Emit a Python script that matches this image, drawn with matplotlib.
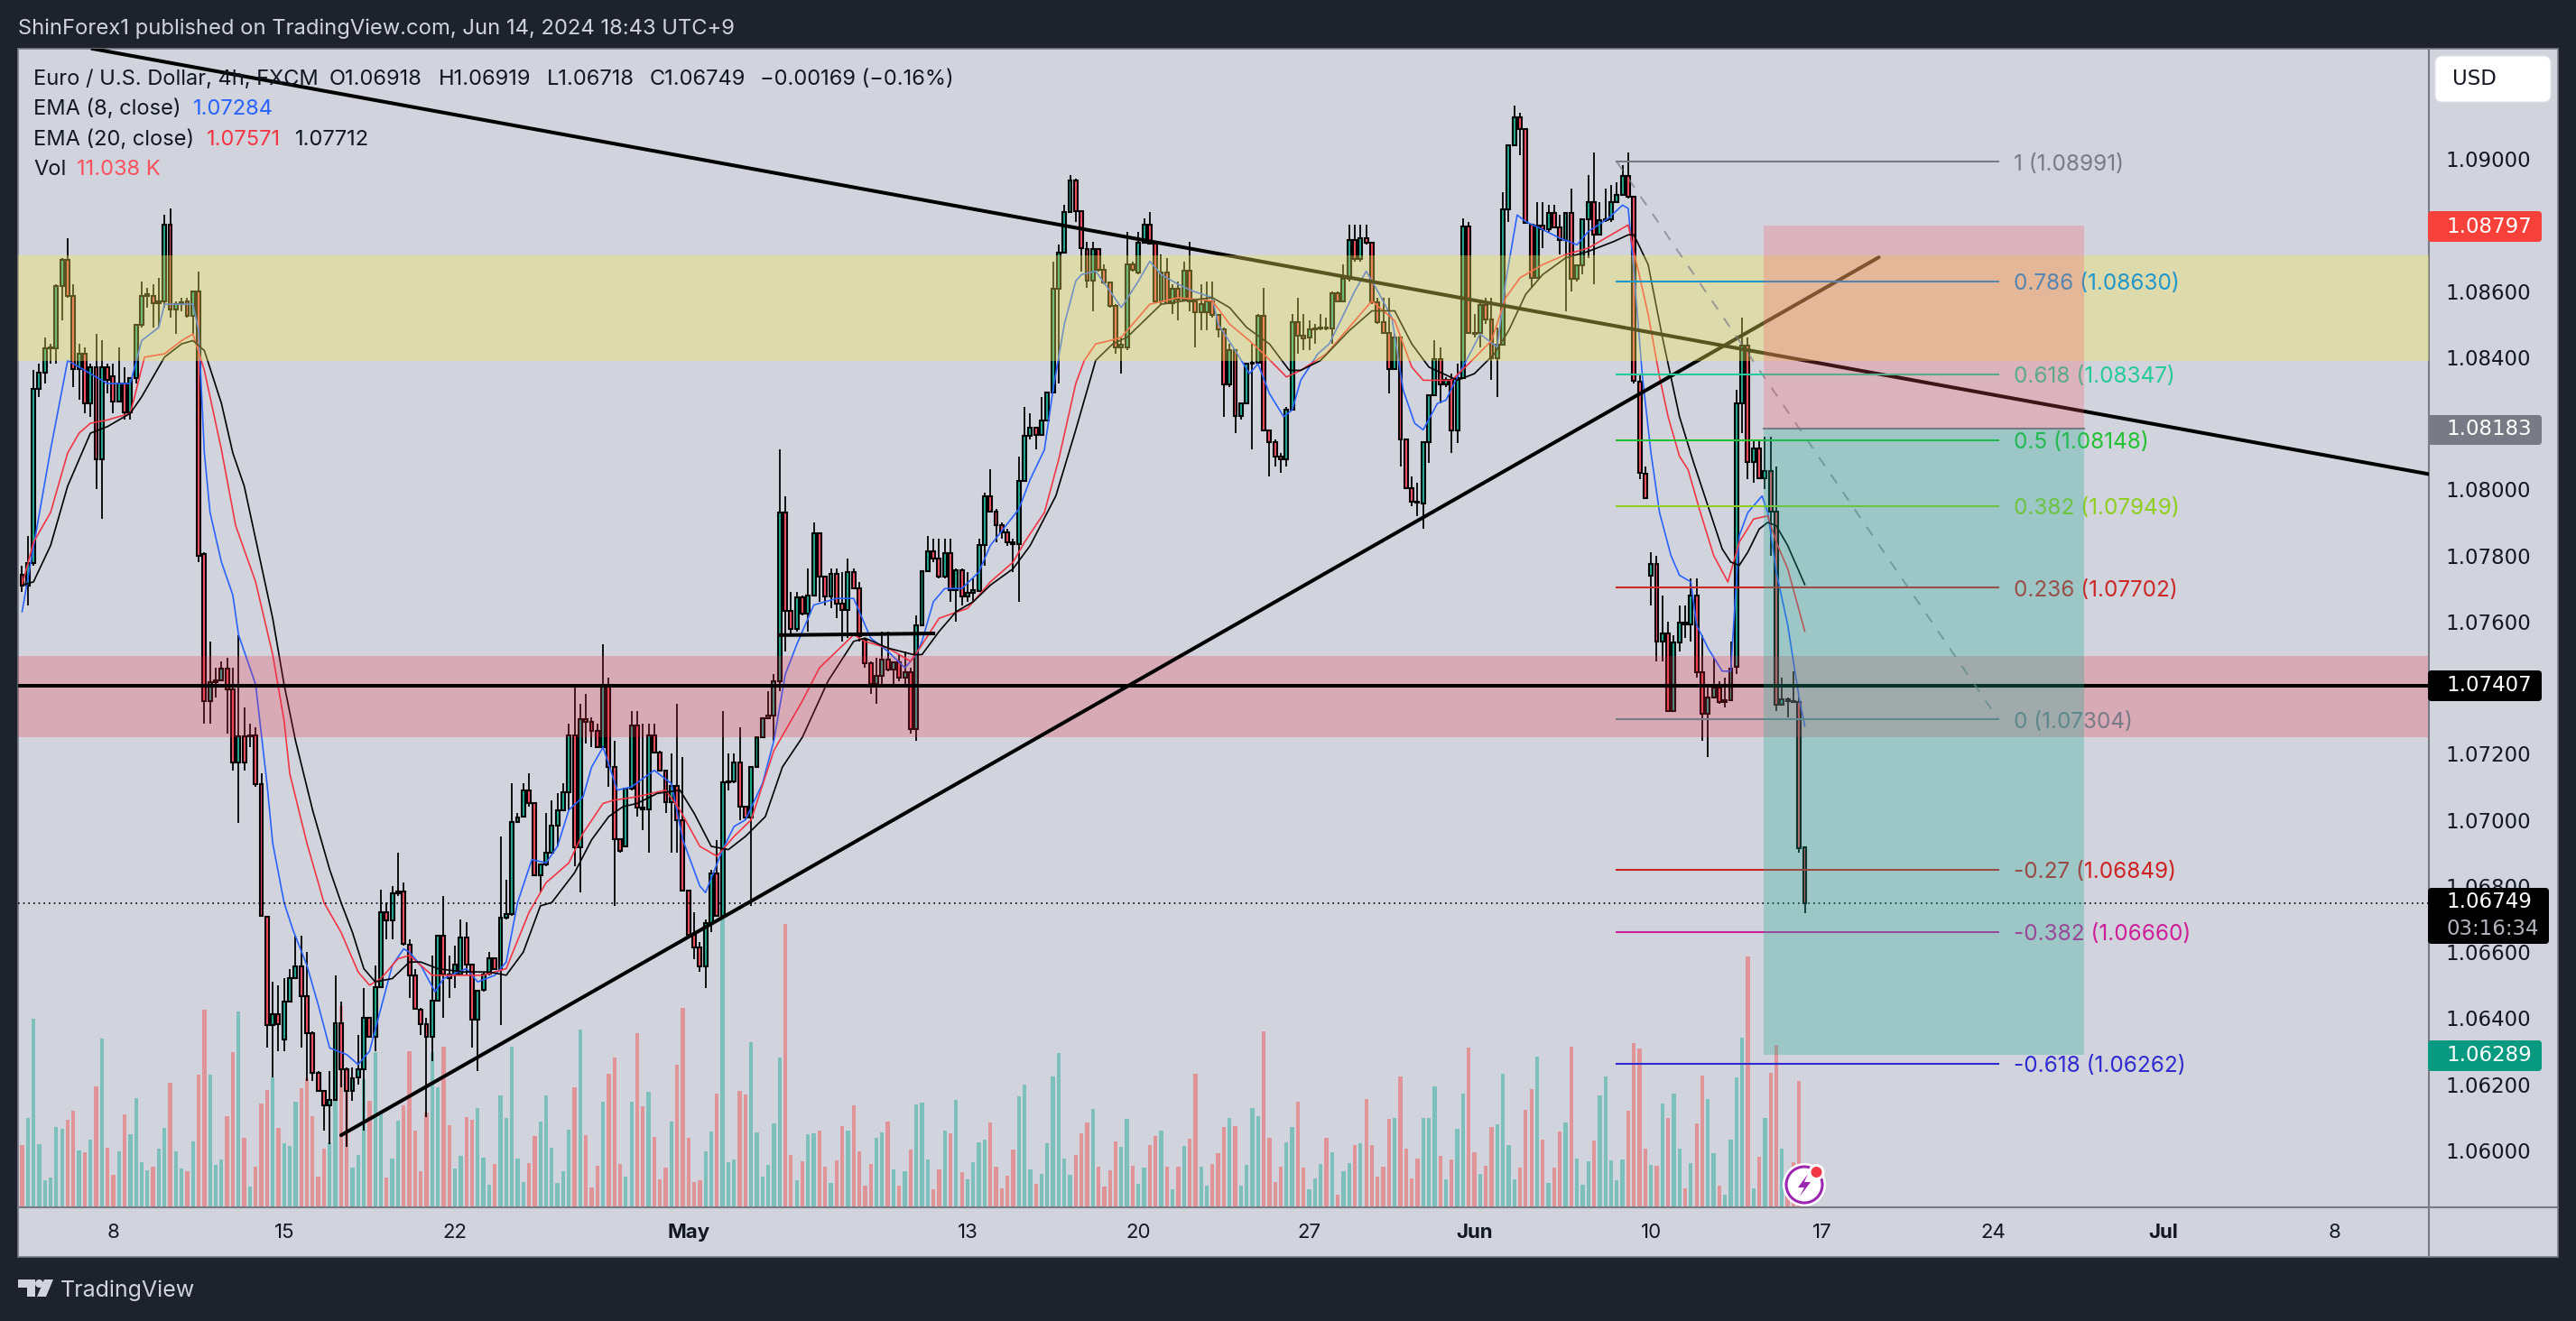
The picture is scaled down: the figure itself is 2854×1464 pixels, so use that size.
import matplotlib
matplotlib.use('Agg')
import matplotlib.pyplot as plt
from matplotlib.patches import Rectangle, Polygon, Circle, FancyBboxPatch
from matplotlib.transforms import Affine2D
import numpy as np

plt.rcParams['font.family'] = ['Inter', 'DejaVu Sans']

# EUR/USD 4h candles
opens = [
    1.07742, 1.0771, 1.07778, 1.08303, 1.08354, 1.08426, 1.08426, 1.08614, 1.08693, 1.08584,
    1.08365, 1.08411, 1.0826, 1.0837, 1.0809, 1.0837, 1.08343, 1.08265, 1.0832, 1.08233,
    1.08338, 1.08497, 1.08586, 1.08584, 1.08563, 1.0857, 1.08802, 1.08545, 1.08561, 1.0857,
    1.08525, 1.08599, 1.07804, 1.0736, 1.07416, 1.07421, 1.07458, 1.07396, 1.07173, 1.07252,
    1.07252, 1.07255, 1.07108, 1.06707, 1.06379, 1.06411, 1.06336, 1.0645, 1.0652, 1.06557,
    1.06468, 1.06356, 1.06236, 1.06181, 1.06136, 1.06154, 1.06386, 1.06247, 1.06181, 1.0622,
    1.06245, 1.064, 1.06343, 1.06495, 1.06721, 1.06695, 1.06779, 1.06784, 1.06623, 1.06529,
    1.06427, 1.06383, 1.06343, 1.06454, 1.0665, 1.06532, 1.06532, 1.06532, 1.06645, 1.06563,
    1.06395, 1.06486, 1.06536, 1.06582, 1.06548, 1.06703, 1.06715, 1.06994, 1.07009, 1.07089,
    1.0705, 1.06832, 1.06864, 1.06902, 1.06982, 1.07028, 1.07084, 1.07255, 1.06918, 1.07305,
    1.07296, 1.07269, 1.07221, 1.07405, 1.07159, 1.06941, 1.06921, 1.07094, 1.07285, 1.07037,
    1.07032, 1.07255, 1.07205, 1.07148, 1.07055, 1.07103, 1.07, 1.06785, 1.06652, 1.06613,
    1.06556, 1.06688, 1.06838, 1.06709, 1.07114, 1.07117, 1.07173, 1.07039, 1.07008, 1.07159,
    1.07249, 1.07308, 1.07317, 1.07419, 1.0793, 1.07633, 1.07578, 1.07672, 1.07624, 1.0768,
    1.07867, 1.07737, 1.07675, 1.07744, 1.07655, 1.07635, 1.07749, 1.07701, 1.07546, 1.07473,
    1.0741, 1.07437, 1.07485, 1.07455, 1.07478, 1.0743, 1.07446, 1.07276, 1.07589, 1.07753,
    1.07813, 1.0779, 1.07735, 1.07806, 1.07696, 1.07756, 1.07676, 1.07687, 1.07692, 1.07833,
    1.0798, 1.07933, 1.07892, 1.07871, 1.0784, 1.07835, 1.08026, 1.08162, 1.08186, 1.08165,
    1.08209, 1.08294, 1.08608, 1.08717, 1.08838, 1.08934, 1.08843, 1.08727, 1.08632, 1.08727,
    1.08665, 1.08625, 1.08556, 1.08429, 1.08429, 1.08681, 1.08656, 1.08747, 1.08802, 1.08743,
    1.0857, 1.08655, 1.08563, 1.08606, 1.08575, 1.08661, 1.0857, 1.08535, 1.08535, 1.0857,
    1.08529, 1.08484, 1.08317, 1.0842, 1.08222, 1.0826, 1.0838, 1.08383, 1.08525, 1.08179,
    1.08144, 1.08099, 1.0809, 1.08241, 1.08506, 1.08465, 1.08459, 1.08484, 1.08487, 1.0849,
    1.08488, 1.08593, 1.0857, 1.08636, 1.08755, 1.08697, 1.08761, 1.08745, 1.08565, 1.08506,
    1.08472, 1.08365, 1.08459, 1.08151, 1.08004, 1.07962, 1.07956, 1.08144, 1.08286, 1.08394,
    1.08317, 1.08331, 1.08179, 1.08336, 1.08796, 1.08474, 1.08474, 1.08559, 1.08515, 1.08397,
    1.08438, 1.08848, 1.0904, 1.09125, 1.09089, 1.08802, 1.08641, 1.08797, 1.08788, 1.08836,
    1.08793, 1.08755, 1.08836, 1.08638, 1.08679, 1.08816, 1.08869, 1.0877, 1.08814, 1.08816,
    1.08869, 1.0889, 1.08949, 1.08884, 1.08327, 1.08047, 1.07738, 1.07774, 1.0754, 1.07563,
    1.07328, 1.07538, 1.07597, 1.07592, 1.0768, 1.07448, 1.07322, 1.0737, 1.07401, 1.07358,
    1.07362, 1.07462, 1.0826, 1.08434, 1.08084, 1.08125, 1.08034, 1.08056, 1.07933, 1.07349,
    1.07365, 1.0736, 1.07358, 1.06918,
]
highs = [
    1.0777, 1.0786, 1.0836, 1.0838, 1.0846, 1.0844, 1.0862, 1.087, 1.0876, 1.0862,
    1.0844, 1.0843, 1.0838, 1.0847, 1.0845, 1.0838, 1.0838, 1.0843, 1.0837, 1.0834,
    1.085, 1.0863, 1.0861, 1.0862, 1.0864, 1.0883, 1.0885, 1.0857, 1.0858, 1.0858,
    1.086, 1.0866, 1.0781, 1.0754, 1.0746, 1.0748, 1.0749, 1.0746, 1.0756, 1.0734,
    1.0729, 1.0728, 1.0714, 1.0671, 1.0651, 1.065, 1.0652, 1.0655, 1.0665, 1.0665,
    1.066, 1.0636, 1.0624, 1.0618, 1.0624, 1.0653, 1.0645, 1.0625, 1.0625, 1.0635,
    1.0649, 1.064, 1.0656, 1.0679, 1.0675, 1.068, 1.069, 1.0681, 1.0664, 1.0655,
    1.0643, 1.064, 1.0659, 1.0665, 1.0677, 1.0659, 1.0662, 1.067, 1.0669, 1.0656,
    1.0648, 1.0654, 1.066, 1.0658, 1.0695, 1.0682, 1.0711, 1.0702, 1.0711, 1.0714,
    1.0705, 1.06864, 1.0702, 1.0706, 1.0708, 1.0711, 1.0729, 1.074, 1.0735, 1.0738,
    1.0731, 1.0729, 1.0753, 1.0743, 1.0724, 1.0694, 1.07094, 1.0733, 1.0733, 1.0729,
    1.0729, 1.0729, 1.0721, 1.0715, 1.072, 1.0735, 1.0719, 1.0679, 1.0672, 1.0663,
    1.067, 1.0685, 1.0694, 1.0733, 1.072, 1.072, 1.0728, 1.0704, 1.07159, 1.0725,
    1.0731, 1.0739, 1.0744, 1.0812, 1.0798, 1.0769, 1.0769, 1.0768, 1.0776, 1.079,
    1.0787, 1.0774, 1.0776, 1.0776, 1.0775, 1.0779, 1.0776, 1.0772, 1.0755, 1.0748,
    1.0749, 1.0757, 1.0757, 1.0748, 1.075, 1.0751, 1.0746, 1.0762, 1.0775, 1.0786,
    1.0785, 1.0785, 1.0785, 1.0785, 1.0776, 1.0776, 1.0775, 1.0773, 1.0785, 1.0799,
    1.0806, 1.0794, 1.079, 1.0788, 1.0785, 1.081, 1.0825, 1.0823, 1.0819, 1.0828,
    1.0829, 1.0869, 1.0874, 1.0886, 1.0895, 1.0894, 1.0884, 1.0875, 1.0875, 1.0873,
    1.0868, 1.0863, 1.0856, 1.0846, 1.0878, 1.0869, 1.0878, 1.0882, 1.0884, 1.0874,
    1.0871, 1.087, 1.0862, 1.0863, 1.0869, 1.0875, 1.0857, 1.0862, 1.0863, 1.0863,
    1.0853, 1.0849, 1.0844, 1.0842, 1.0826, 1.0838, 1.0844, 1.0853, 1.0861, 1.0818,
    1.0815, 1.0811, 1.0825, 1.0853, 1.0858, 1.0853, 1.0851, 1.085, 1.0853, 1.0852,
    1.086, 1.086, 1.0868, 1.088, 1.088, 1.088, 1.088, 1.0875, 1.0858, 1.0858,
    1.0858, 1.0847, 1.0846, 1.0815, 1.0804, 1.0802, 1.08144, 1.08286, 1.0845, 1.0843,
    1.0834, 1.0835, 1.0838, 1.0882, 1.0881, 1.0853, 1.0857, 1.0858, 1.0858, 1.0849,
    1.089, 1.0904, 1.0916, 1.0914, 1.0909, 1.088, 1.0887, 1.0887, 1.0886, 1.0886,
    1.0883, 1.0884, 1.0891, 1.0868, 1.0882, 1.0895, 1.0902, 1.0887, 1.0891, 1.0892,
    1.0893, 1.0898, 1.0902, 1.0888, 1.0835, 1.0807, 1.0781, 1.078, 1.0768, 1.076,
    1.0756, 1.0765, 1.0765, 1.0773, 1.0773, 1.0756, 1.074, 1.0749, 1.0742, 1.0743,
    1.0754, 1.083, 1.0852, 1.0846, 1.0815, 1.0815, 1.0816, 1.0816, 1.0807, 1.0743,
    1.0737, 1.0745, 1.0737, 1.06919,
]
lows = [
    1.0769, 1.0765, 1.0777, 1.0828, 1.0832, 1.0838, 1.0838, 1.0851, 1.0858, 1.0831,
    1.0827, 1.0823, 1.0822, 1.08, 1.0791, 1.0829, 1.0823, 1.08265, 1.0821, 1.0821,
    1.0832, 1.0849, 1.0855, 1.0849, 1.0849, 1.0855, 1.0852, 1.0847, 1.0854, 1.0852,
    1.0847, 1.0778, 1.0729, 1.0729, 1.0737, 1.0742, 1.0726, 1.0715, 1.0699, 1.0715,
    1.0722, 1.071, 1.0671, 1.0631, 1.0622, 1.063, 1.063, 1.0645, 1.0652, 1.0631,
    1.0621, 1.0621, 1.0618, 1.0606, 1.0602, 1.06154, 1.0619, 1.0601, 1.0615, 1.062,
    1.0606, 1.06343, 1.063, 1.06495, 1.0664, 1.0664, 1.0677, 1.0662, 1.0646, 1.0643,
    1.0635, 1.061, 1.0627, 1.06454, 1.064, 1.0646, 1.0649, 1.0653, 1.0653, 1.0631,
    1.0624, 1.0648, 1.0653, 1.0655, 1.0638, 1.067, 1.0671, 1.0699, 1.07009, 1.0704,
    1.0683, 1.0678, 1.0686, 1.069, 1.0692, 1.0703, 1.0703, 1.0686, 1.0678, 1.0723,
    1.0722, 1.0722, 1.0722, 1.071, 1.0674, 1.069, 1.0692, 1.0709, 1.0701, 1.0697,
    1.069, 1.072, 1.0715, 1.0702, 1.069, 1.069, 1.06786, 1.0665, 1.0658, 1.0654,
    1.0649, 1.0666, 1.0671, 1.0671, 1.0709, 1.0711, 1.07, 1.07, 1.0674, 1.0716,
    1.0725, 1.0731, 1.0724, 1.0739, 1.0751, 1.0756, 1.0757, 1.0762, 1.0757, 1.0768,
    1.0766, 1.0765, 1.0764, 1.0761, 1.0754, 1.0755, 1.077, 1.0754, 1.0746, 1.0738,
    1.0735, 1.074, 1.0745, 1.0741, 1.0742, 1.0741, 1.0726, 1.0724, 1.0759, 1.0775,
    1.0778, 1.0773, 1.0773, 1.0766, 1.076, 1.0765, 1.0766, 1.0766, 1.0769, 1.0777,
    1.0793, 1.0784, 1.0785, 1.0783, 1.0775, 1.0766, 1.0803, 1.0815, 1.0812, 1.0817,
    1.0821, 1.0829, 1.0832, 1.0872, 1.0884, 1.0881, 1.0866, 1.0861, 1.0854, 1.0866,
    1.0862, 1.0855, 1.0841, 1.0835, 1.0842, 1.0866, 1.0865, 1.0875, 1.0874, 1.0857,
    1.0856, 1.0856, 1.0853, 1.0851, 1.0857, 1.0854, 1.0843, 1.0848, 1.0848, 1.0852,
    1.0846, 1.0822, 1.0831, 1.0817, 1.0821, 1.0826, 1.0812, 1.0838, 1.0818, 1.0804,
    1.0807, 1.0805, 1.0807, 1.0824, 1.0841, 1.0842, 1.0842, 1.0844, 1.0848, 1.0848,
    1.0844, 1.0857, 1.0857, 1.0863, 1.0869, 1.0869, 1.0874, 1.0856, 1.085, 1.0847,
    1.0829, 1.0836, 1.0807, 1.08, 1.0795, 1.0792, 1.0788, 1.0808, 1.08286, 1.0826,
    1.0831, 1.0811, 1.0814, 1.08336, 1.08474, 1.0846, 1.0843, 1.085, 1.0833, 1.0828,
    1.08438, 1.0881, 1.0904, 1.0901, 1.08807, 1.0861, 1.0864, 1.0873, 1.0878, 1.0879,
    1.0871, 1.0854, 1.086, 1.0863, 1.0865, 1.087, 1.0862, 1.0877, 1.0881, 1.0881,
    1.0887, 1.0889, 1.0888, 1.0832, 1.0803, 1.0797, 1.0765, 1.0748, 1.0748, 1.07328,
    1.0733, 1.0751, 1.0755, 1.0754, 1.0743, 1.0724, 1.0719, 1.0737, 1.0735, 1.0734,
    1.0736, 1.0744, 1.0817, 1.0803, 1.0802, 1.0803, 1.08, 1.078, 1.0733, 1.0735,
    1.0731, 1.0736, 1.069, 1.06718,
]
closes = [
    1.0771, 1.07778, 1.08303, 1.08354, 1.08426, 1.0843, 1.08614, 1.08693, 1.08584, 1.08365,
    1.08411, 1.0826, 1.0837, 1.0809, 1.0837, 1.0833, 1.08265, 1.0832, 1.08233, 1.08338,
    1.08497, 1.08586, 1.0859, 1.08563, 1.0857, 1.08802, 1.08545, 1.08561, 1.08565, 1.08525,
    1.08599, 1.078, 1.0736, 1.07416, 1.07421, 1.07458, 1.07396, 1.07173, 1.07252, 1.07173,
    1.07257, 1.07108, 1.0671, 1.06379, 1.06411, 1.06381, 1.0645, 1.0652, 1.06557, 1.06468,
    1.06356, 1.06236, 1.06181, 1.06136, 1.06154, 1.06386, 1.06247, 1.06181, 1.06218, 1.06245,
    1.064, 1.06343, 1.06495, 1.06721, 1.06695, 1.06779, 1.06784, 1.06624, 1.06529, 1.06429,
    1.06383, 1.06343, 1.06454, 1.0665, 1.06532, 1.06522, 1.06563, 1.06645, 1.06563, 1.06395,
    1.06482, 1.06533, 1.06582, 1.06548, 1.06703, 1.06715, 1.06994, 1.07007, 1.07089, 1.0705,
    1.06832, 1.06864, 1.06902, 1.06982, 1.07028, 1.07084, 1.07255, 1.06918, 1.07305, 1.07296,
    1.07269, 1.07221, 1.07405, 1.07159, 1.06941, 1.06905, 1.07094, 1.07285, 1.07037, 1.07032,
    1.07255, 1.07205, 1.07148, 1.07055, 1.07103, 1.07, 1.06786, 1.06652, 1.06613, 1.06556,
    1.06688, 1.06838, 1.06709, 1.07114, 1.07117, 1.07173, 1.07039, 1.07008, 1.07159, 1.07249,
    1.07308, 1.07317, 1.07419, 1.0793, 1.07633, 1.07578, 1.07672, 1.07624, 1.0768, 1.07867,
    1.07737, 1.07675, 1.07744, 1.07655, 1.07635, 1.07749, 1.07701, 1.07555, 1.07473, 1.0741,
    1.07437, 1.07485, 1.07455, 1.07478, 1.0743, 1.07446, 1.07276, 1.07589, 1.07753, 1.07813,
    1.0779, 1.07735, 1.07806, 1.07696, 1.07756, 1.07676, 1.07687, 1.07695, 1.07833, 1.0798,
    1.07933, 1.07892, 1.07871, 1.0784, 1.07835, 1.08026, 1.08162, 1.08186, 1.08165, 1.08209,
    1.08294, 1.08608, 1.08717, 1.08838, 1.08934, 1.08843, 1.08729, 1.08632, 1.08727, 1.08665,
    1.08625, 1.08556, 1.08429, 1.08438, 1.08681, 1.08665, 1.08747, 1.08802, 1.08743, 1.0857,
    1.08655, 1.08563, 1.08606, 1.08575, 1.08661, 1.0857, 1.08535, 1.0856, 1.0857, 1.08529,
    1.08484, 1.08317, 1.0842, 1.08222, 1.0826, 1.0838, 1.08382, 1.08525, 1.08179, 1.08144,
    1.08099, 1.0809, 1.08241, 1.08506, 1.08465, 1.08456, 1.08484, 1.08487, 1.0849, 1.08488,
    1.08593, 1.0857, 1.08636, 1.08755, 1.08697, 1.08761, 1.08745, 1.08565, 1.08506, 1.08472,
    1.08365, 1.08459, 1.08151, 1.08004, 1.07962, 1.0796, 1.08144, 1.08286, 1.08394, 1.08317,
    1.08331, 1.08179, 1.08336, 1.08796, 1.08474, 1.0847, 1.08559, 1.08515, 1.08397, 1.08438,
    1.08848, 1.0904, 1.09125, 1.09089, 1.08807, 1.08641, 1.08797, 1.08788, 1.08836, 1.08793,
    1.08755, 1.08836, 1.08638, 1.08679, 1.08816, 1.08869, 1.0877, 1.08814, 1.08816, 1.08869,
    1.0889, 1.08949, 1.08884, 1.08329, 1.0805, 1.07974, 1.07774, 1.0754, 1.07563, 1.07328,
    1.07538, 1.07597, 1.07592, 1.0768, 1.07448, 1.07322, 1.0737, 1.07401, 1.07358, 1.07362,
    1.07459, 1.0826, 1.08434, 1.08084, 1.08125, 1.08034, 1.08056, 1.07933, 1.07349, 1.07365,
    1.0736, 1.07358, 1.06915, 1.06749,
]

volumes = [
    204, 295, 625, 208, 88, 97, 265, 259, 289, 319,
    187, 181, 223, 400, 559, 196, 106, 184, 307, 241,
    361, 148, 121, 133, 193, 262, 412, 184, 127, 118,
    217, 439, 655, 439, 139, 157, 301, 514, 649, 229,
    67, 133, 343, 388, 430, 262, 211, 202, 349, 394,
    427, 301, 100, 193, 212, 362, 665, 412, 130, 172,
    422, 352, 512, 309, 97, 160, 286, 337, 517, 253,
    118, 312, 512, 397, 532, 271, 127, 169, 298, 289,
    328, 163, 73, 142, 370, 295, 532, 160, 82, 145,
    235, 283, 370, 196, 79, 118, 256, 397, 589, 238,
    64, 136, 349, 442, 496, 142, 100, 349, 577, 334,
    382, 232, 91, 130, 283, 472, 661, 229, 82, 88,
    184, 250, 376, 962, 148, 157, 385, 373, 547, 247,
    100, 139, 277, 496, 940, 172, 88, 151, 241, 244,
    253, 133, 79, 154, 268, 253, 337,
    183, 69, 141, 228, 246, 282, 123, 69, 117, 189, 339, 345, 156, 57, 123, 252, 243, 354,
    114, 90, 147, 213, 222, 279, 132, 60, 102, 189, 366, 405, 123, 75, 108, 210, 432, 510,
    159, 105, 171, 243, 279, 324, 132, 66, 120, 216, 198, 291, 135, 75, 129, 204, 234, 252,
    132, 57, 132, 201, 225, 441, 132, 69, 141, 177, 264, 294, 267, 69, 138, 327, 300, 582,
    228, 81, 132, 213, 264, 348, 129, 57, 93, 141, 228, 180, 39, 117, 144, 204, 210, 357,
    204, 99, 132, 291, 294, 432, 192, 93, 159, 294, 294, 399, 168, 90, 156, 258, 375, 528,
    180, 108, 135, 264, 273, 441, 204, 90, 129, 321, 390, 498, 222, 78, 129, 249, 279, 531,
    159, 72, 150, 219, 369, 432, 153, 87, 156, 318, 543, 525, 192, 138, 135, 342, 294,
    375, 192, 60, 145, 276, 435, 357, 177, 70, 40, 222, 429, 561, 831, 60, 165, 294, 444,
    537, 192, 100, 147, 417, 5,
]

# EMA curves, digitised as (bar, price) vertices
ema8_x = [0, 5, 8, 15, 19, 21, 24, 25, 30, 31, 32, 33, 35, 37, 38, 41, 42, 43, 44, 46, 47.5, 50, 52, 54, 57, 59, 61,
          63, 65, 67, 68, 70, 72.5, 74, 78, 80, 83, 85, 87, 89.5, 92, 94, 96, 98.5, 100, 102, 104.5, 107, 111, 114,
          116, 119, 120, 123, 125, 127, 130, 132, 134, 136, 139, 143, 146, 147, 149, 152, 155, 157, 158, 160, 162,
          165, 168, 170, 175, 177, 179.5, 181, 183, 185, 186, 188.5, 191, 193, 194.5, 196, 198, 200, 203, 205.5,
          209, 210, 213, 215.5, 217, 219, 221.5, 223, 224.5, 227.5, 229.5, 231.5, 234, 236, 238, 240.5, 242.5,
          244.5, 246, 248.5, 250, 252, 254.5, 256, 259, 260.5, 262.5, 264, 266.5, 270, 273, 275, 278.5, 281, 282,
          283, 284.5, 286, 287.5, 289.5, 291, 293, 294, 296, 298.5, 300, 301.5, 303, 305.5, 306.5, 308, 310, 312, 313]
ema8_y = [1.0763, 1.0812, 1.0839, 1.0832, 1.0832, 1.0845, 1.0849, 1.0856, 1.0856, 1.0848, 1.0811, 1.0793, 1.0778,
          1.0768, 1.0756, 1.0741, 1.0726, 1.0711, 1.0693, 1.0675, 1.0667, 1.0656, 1.0644, 1.0631, 1.0629, 1.0626,
          1.063, 1.0643, 1.0656, 1.0661, 1.066, 1.0656, 1.0648, 1.0652, 1.0655, 1.0651, 1.0653, 1.0657, 1.0675,
          1.0688, 1.0687, 1.0692, 1.0703, 1.0707, 1.0716, 1.0722, 1.0709, 1.071, 1.0715, 1.0711, 1.0694, 1.068,
          1.0678, 1.0691, 1.0698, 1.07, 1.0711, 1.0724, 1.0744, 1.0753, 1.0765, 1.0767, 1.0767, 1.0763, 1.0755,
          1.0751, 1.0746, 1.075, 1.0754, 1.0766, 1.077, 1.077, 1.0775, 1.0783, 1.0794, 1.0803, 1.0812, 1.083, 1.085,
          1.0863, 1.0865, 1.0866, 1.086, 1.0855, 1.0859, 1.0863, 1.0869, 1.0865, 1.0862, 1.086, 1.0858, 1.085,
          1.0842, 1.0835, 1.0838, 1.0829, 1.0822, 1.0824, 1.0833, 1.0841, 1.0844, 1.0851, 1.086, 1.0866, 1.086,
          1.0852, 1.083, 1.082, 1.0818, 1.0826, 1.0827, 1.0834, 1.0842, 1.0847, 1.0843, 1.0863, 1.0883, 1.0881,
          1.0879, 1.0876, 1.0874, 1.0878, 1.0882, 1.0886, 1.0885, 1.0866, 1.0834, 1.0811, 1.0793, 1.078, 1.0774,
          1.0772, 1.0759, 1.0752, 1.0745, 1.0745, 1.0786, 1.0793, 1.0798, 1.0793, 1.0775, 1.0759, 1.0737, 1.07284]

ema20_x = [0, 2, 5, 8, 10, 12, 15, 19, 21.5, 25, 28, 30, 32, 35, 37.5, 41, 44, 46, 47, 50, 53, 56, 59, 61, 63, 66, 68,
           72, 76, 81, 85, 89, 92, 96, 98.5, 102, 104, 108, 113, 115.5, 119, 122, 125, 128, 132, 137, 140, 143, 146,
           148, 152, 156, 158, 161, 166, 170, 174, 176, 179.5, 182, 185, 186.5, 188.5, 191, 193, 195, 198, 203, 209,
           212, 215.5, 218, 222, 224.5, 229, 233.5, 237, 241, 244, 246, 251, 254, 258, 260.5, 263, 267, 271, 275, 279,
           282, 283, 285.5, 287.5, 289, 291, 292.5, 294.5, 297, 299.5, 301.5, 304, 306.5, 308, 310, 313]
ema20_y = [1.0771, 1.0784, 1.0793, 1.0811, 1.0817, 1.082, 1.0821, 1.0823, 1.084, 1.0841, 1.0845, 1.0847, 1.0836, 1.0812,
           1.0789, 1.0772, 1.075, 1.073, 1.0714, 1.0693, 1.0675, 1.0666, 1.0654, 1.065, 1.0652, 1.0658, 1.0659, 1.0653,
           1.0653, 1.0653, 1.0655, 1.0672, 1.0681, 1.0687, 1.0696, 1.0705, 1.0706, 1.0707, 1.0709, 1.0703, 1.0692,
           1.0689, 1.0695, 1.07, 1.0721, 1.0736, 1.0746, 1.0751, 1.0756, 1.0754, 1.0752, 1.0748, 1.0753, 1.0761, 1.0764,
           1.0772, 1.0778, 1.0784, 1.0793, 1.0809, 1.0832, 1.0839, 1.0844, 1.0845, 1.0846, 1.085, 1.0856, 1.0858, 1.0857,
           1.085, 1.0845, 1.0841, 1.0834, 1.0836, 1.0841, 1.085, 1.0857, 1.0851, 1.0837, 1.0833, 1.0833, 1.0838, 1.0845,
           1.0858, 1.0864, 1.0868, 1.0871, 1.0873, 1.0877, 1.088, 1.0872, 1.0853, 1.0834, 1.0822, 1.081, 1.0806, 1.0794,
           1.078, 1.0772, 1.0784, 1.0791, 1.0792, 1.0784, 1.0776, 1.07571]

ema20b_x = [0, 2, 5, 8, 10.5, 12, 15, 19, 21, 25, 28, 30, 32, 35, 37, 39, 41.5, 44, 46, 48, 50, 51, 54, 56, 58, 60, 62,
            65, 68, 70, 73, 77.5, 82, 85, 88, 91, 93, 97, 100, 103, 105.5, 108, 111.5, 115.5, 118, 121, 124, 127, 130.5,
            133.5, 137, 141.5, 146, 148, 152, 156.5, 158, 161, 164, 167, 170, 174, 177, 181.5, 185, 187, 188.5, 191.5,
            194, 197, 200, 204, 209, 212, 215, 219, 222.5, 224.5, 228, 233, 237, 241, 244, 247, 252, 255, 258.5, 261,
            264, 267, 271, 275, 279.5, 282, 283, 285.5, 288, 291, 293.5, 296, 298.5, 300, 301.5, 303, 305, 306.5, 308,
            310, 313]
ema20b_y = [1.0771, 1.0772, 1.0783, 1.0801, 1.0811, 1.0817, 1.0819, 1.0823, 1.0828, 1.084, 1.0844, 1.0845, 1.0842, 1.0826,
            1.0811, 1.0801, 1.0781, 1.0761, 1.0741, 1.0724, 1.071, 1.0703, 1.0685, 1.0675, 1.0666, 1.0655, 1.0651, 1.0652,
            1.0657, 1.0657, 1.0655, 1.0654, 1.0654, 1.0653, 1.066, 1.0674, 1.0675, 1.0684, 1.0694, 1.0701, 1.0704, 1.0705,
            1.0708, 1.0709, 1.0702, 1.0692, 1.0691, 1.0695, 1.0701, 1.0716, 1.0725, 1.0742, 1.0754, 1.0755, 1.0752, 1.075,
            1.075, 1.0757, 1.0763, 1.0766, 1.0771, 1.0776, 1.0783, 1.0798, 1.0818, 1.083, 1.0839, 1.0844, 1.0846, 1.0851,
            1.0856, 1.0857, 1.0858, 1.0855, 1.0849, 1.0844, 1.0836, 1.0836, 1.0839, 1.0848, 1.0854, 1.0854, 1.0844, 1.0837,
            1.0833, 1.0835, 1.0841, 1.0848, 1.0859, 1.0865, 1.087, 1.0872, 1.0875, 1.0877, 1.0877, 1.0868, 1.0846, 1.0822,
            1.0808, 1.0795, 1.0782, 1.0778, 1.0777, 1.0781, 1.0788, 1.079, 1.0789, 1.0783, 1.07712]

# levels and drawings
fib_levels = ['1', '0.786', '0.618', '0.5', '0.382', '0.236', '0', '-0.27', '-0.382', '-0.618']
fib_prices = [1.08991, 1.08630, 1.08347, 1.08148, 1.07949, 1.07702, 1.07304, 1.06849, 1.06660, 1.06262]
fib_colors = ['#787b86', '#2196c9', '#26c99a', '#22c033', '#8fce1f', '#cc2828', '#787b86', '#cc2222', '#cc1f99', '#2f2bd0']
fib_start, fib_end, fib_label_x = 280, 347, 349.7

down_line_x, down_line_y = [12.4, 422.6], [1.09333, 1.08046]
up_line_x, up_line_y = [56, 326], [1.06046, 1.08702]
flat_line_x, flat_line_y = [133, 160], [1.07559, 1.07564]
support_price = 1.07407
last_price = 1.06749
box_left, box_right = 305.8, 362
box_stop, box_entry, box_target = 1.08797, 1.08183, 1.06289
yellow_zone = [1.08388, 1.08708]
red_zone = [1.0725, 1.07496]

price_ticks = [1.06, 1.062, 1.064, 1.066, 1.068, 1.07, 1.072, 1.076, 1.078, 1.08, 1.084, 1.086, 1.09]
time_ticks = [16, 46, 76, 117, 166, 196, 226, 255, 286, 316, 346, 376, 406]
time_labels = ['8', '15', '22', 'May', '13', '20', '27', 'Jun', '10', '17', '24', 'Jul', '8']

W, H = 2854, 1464
BG = '#d1d4dc'
DARK = '#1e222d'
GREY = '#787b86'
UP, DOWN = '#22ab94', '#f7525f'
VOL_UP, VOL_DOWN = '#7dbfbb', '#e19497'
PRICE_FONT = ['DejaVu Sans']

fig = plt.figure(figsize=(W / 100, H / 100), dpi=100, facecolor=DARK)
px = Affine2D().scale(1, -1).translate(0, H)  # top-left pixel coordinates for the page furniture

fig.add_artist(Rectangle((20, 54), 2814, 1339, transform=px, fc=BG, ec=GREY, lw=1.2, zorder=-1))

pos = [20 / W, 1 - 1338 / H, 2671 / W, 1284 / H]
ax_vol = fig.add_axes(pos, zorder=0)
ax = fig.add_axes(pos, zorder=1, sharex=ax_vol)
ax.patch.set_visible(False)
ax_vol.patch.set_visible(False)

bars = np.arange(len(closes))
opens = np.array(opens)
highs = np.array(highs)
lows = np.array(lows)
closes = np.array(closes)
up = closes >= opens

ax_vol.bar(bars, volumes, width=0.68, color=[VOL_UP if u else VOL_DOWN for u in up])
ax_vol.set_ylim(-3, 3849)
ax_vol.axis('off')

ax.vlines(bars, lows, highs, color='black', lw=1.3, zorder=1)
ax.bar(bars[up], (closes - opens)[up], bottom=opens[up], width=0.62, color=UP, edgecolor='black', lw=1.5, zorder=1.2)
ax.bar(bars[~up], (closes - opens)[~up], bottom=opens[~up], width=0.62, color=DOWN, edgecolor='black', lw=1.5, zorder=1.2)

ax.plot(ema8_x, ema8_y, color='#2962ff', lw=1.2, zorder=1.5)
ax.plot(ema20_x, ema20_y, color='#f23645', lw=1.2, zorder=1.5)
ax.plot(ema20b_x, ema20b_y, color='black', lw=1.2, zorder=1.5)

ax.axhspan(red_zone[0], red_zone[1], color=(0.92, 0.18, 0.28), alpha=0.25, lw=0, zorder=2)

ax.axhline(support_price, color='black', lw=2.9, zorder=3)
ax.plot(down_line_x, down_line_y, color='black', lw=2.9, zorder=3)
ax.plot(up_line_x, up_line_y, color='black', lw=2.9, solid_capstyle='round', zorder=3)
ax.plot(flat_line_x, flat_line_y, color='black', lw=2.9, zorder=3)
ax.axhline(last_price, color='black', lw=1.2, ls=(0, (1, 2.4)), zorder=3)

ax.axhspan(yellow_zone[0], yellow_zone[1], color=(0.95, 0.90, 0.34), alpha=0.37, lw=0, zorder=4)

ax.plot([fib_start, fib_end], [fib_prices[0], fib_prices[6]], color=GREY, alpha=0.7, lw=1.4, ls=(0, (6, 6)), zorder=5)
for name, price, col in zip(fib_levels, fib_prices, fib_colors):
    ax.plot([fib_start, fib_end], [price, price], color=col, lw=1.5, zorder=5)
    ax.annotate('%s (%.5f)' % (name, price), (fib_label_x, price), xytext=(0, -2), textcoords='offset points',
                color=col, fontsize=17.5, va='center', ha='left', zorder=5)

ax.fill_between([box_left, box_right], box_entry, box_stop, color='#f7525f', alpha=0.25, lw=0, zorder=6)
ax.fill_between([box_left, box_right], box_target, box_entry, color='#22ab94', alpha=0.3, lw=0, zorder=6)
ax.plot([box_left, box_right], [box_entry, box_entry], color=GREY, lw=1.5, zorder=6)

ax.set_xlim(-0.71, 422.58)
ax.set_ylim(1.05828, 1.09333)
for s in ['top', 'left']:
    ax.spines[s].set_visible(False)
ax.spines['bottom'].set_color(GREY)
ax.spines['right'].set_color(GREY)
ax.spines['bottom'].set_linewidth(1.5)
ax.spines['right'].set_linewidth(1.5)

ax.yaxis.tick_right()
ax.set_yticks(price_ticks)
ax.set_yticklabels(['%.5f' % p for p in price_ticks], family=PRICE_FONT)
ax.tick_params(axis='y', length=0, pad=13.5, labelsize=16.5, labelcolor='#131722')
ax.set_xticks(time_ticks)
ax.set_xticklabels(time_labels)
ax.tick_params(axis='x', length=0, pad=13, labelsize=16, labelcolor='#131722')
for lab in ax.get_xticklabels():
    if lab.get_text() in ('May', 'Jun', 'Jul'):
        lab.set_fontweight('bold')

# extra axis rule under the time scale side of the price column
fig.add_artist(plt.Line2D([2691, 2834], [1338, 1338], transform=px, color=GREY, lw=1.5))
fig.add_artist(plt.Line2D([2691, 2691], [1338, 1393], transform=px, color=GREY, lw=1.5))

# header and legend
fig.text(20, 32, 'ShinForex1 published on TradingView.com, Jun 14, 2024 18:43 UTC+9', transform=px,
         color=BG, fontsize=17.1, va='center')
legend_rows = [
    (37, 88, 'Euro / U.S. Dollar, 4h, FXCM', '#131722'), (365, 88, 'O1.06918', '#131722'),
    (486, 88, 'H1.06919', '#131722'), (606, 88, 'L1.06718', '#131722'), (720, 88, 'C1.06749', '#131722'),
    (842, 88, '\u22120.00169 (\u22120.16%)', '#131722'),
    (37, 121, 'EMA (8, close)', '#131722'), (214, 121, '1.07284', '#2962ff'),
    (37, 155, 'EMA (20, close)', '#131722'), (229, 155, '1.07571', '#f23645'), (327, 155, '1.07712', '#131722'),
    (37, 188, 'Vol', '#131722'), (85, 188, '11.038 K', '#f7525f'),
]
for x, y, s, col in legend_rows:
    fig.text(x, y, s, transform=px, color=col, fontsize=17, va='center', zorder=6)

# price badges
def badge(x0, y0, x1, y1, col, lines):
    fig.add_artist(FancyBboxPatch((x0, y0), x1 - x0, y1 - y0, boxstyle='round,pad=0,rounding_size=4', transform=px,
                                  fc=col, ec='none', zorder=5))
    for (y, s, c) in lines:
        fig.text(2710, y, s, transform=px, color=c, fontsize=16.5, family=PRICE_FONT, va='center', zorder=6)


badge(2690, 234, 2816, 268, '#f7403a', [(251, '1.08797', 'white')])
badge(2690, 460, 2816, 493, GREY, [(476, '1.08183', 'white')])
badge(2690, 743, 2816, 777, 'black', [(760, '1.07407', 'white')])
badge(2690, 984, 2824, 1046, 'black', [(1000, '1.06749', 'white'), (1029, '03:16:34', '#b2b5be')])
badge(2690, 1153, 2816, 1187, '#089981', [(1170, '1.06289', 'white')])

fig.add_artist(FancyBboxPatch((2698, 62), 128, 51, boxstyle='round,pad=0,rounding_size=8', transform=px,
                              fc='white', ec='#e0e3eb', lw=0.8, zorder=5))
fig.text(2717, 88, 'USD', transform=px, color='#131722', fontsize=16.5, family=PRICE_FONT, va='center', zorder=6)

# lightning badge
fig.add_artist(Circle((1999, 1313), 24, transform=px, fc='white', ec='none', zorder=5))
fig.add_artist(Circle((1999, 1313), 20, transform=px, fc='white', ec='#9c27b0', lw=2.2, zorder=5))
fig.add_artist(Polygon([(2003, 1301), (1992, 1316), (1999, 1316), (1994, 1326), (2006, 1310), (1999, 1310)],
                       transform=px, fc='#9c27b0', ec='none', zorder=5))
fig.add_artist(Circle((2012.5, 1299), 9, transform=px, fc='white', ec='none', zorder=5))
fig.add_artist(Circle((2012.5, 1299), 6, transform=px, fc='#f23645', ec='none', zorder=5))

# TradingView mark
fig.add_artist(Polygon([(20, 1418), (39, 1418), (39, 1437), (30, 1437), (30, 1427), (20, 1427)], transform=px, fc=BG, ec='none'))
fig.add_artist(Circle((43.5, 1422.5), 4.5, transform=px, fc=BG, ec='none'))
fig.add_artist(Polygon([(49, 1418), (59, 1418), (51, 1437), (41, 1437)], transform=px, fc=BG, ec='none'))
fig.text(67, 1430, 'TradingView', transform=px, color=BG, fontsize=18, va='center')

fig.savefig('out.png', dpi=100, facecolor=DARK)
